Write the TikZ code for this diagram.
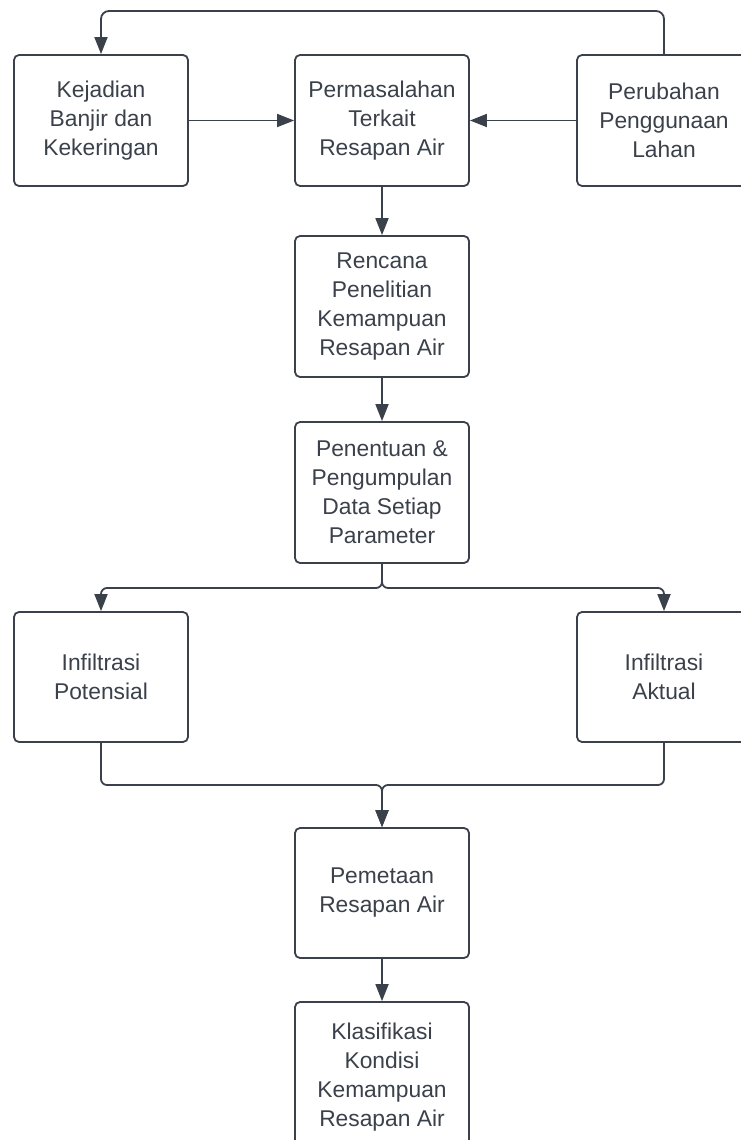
\documentclass[tikz,border=0pt]{standalone}
\usepackage{fontspec}
\setmainfont{Liberation Sans}
\usetikzlibrary{arrows.meta}
\definecolor{linegray}{HTML}{3A414A}
\tikzset{
	box/.style={draw=linegray, line width=1.8pt, rounded corners=5pt, minimum width=174pt, align=center, text=linegray, font=\fontsize{22.8}{29}\selectfont, inner sep=0pt},
	link/.style={draw=linegray, line width=1.8pt, -{Triangle[length=17pt,width=13pt]}}
}
\begin{document}
\begin{tikzpicture}[x=1pt,y=-1pt]
		\useasboundingbox (0,0) rectangle (741,1140);
		\node[box, minimum height=131pt] (KBK) at (101,120.5) {Kejadian\\Banjir dan\\Kekeringan};
		\node[box, minimum height=131pt] (PTR) at (382,120.5) {Permasalahan\\Terkait\\Resapan Air};
		\node[box, minimum height=131pt] (PPL) at (664,120.5) {Perubahan\\Penggunaan\\Lahan};
		\node[box, minimum height=141pt] (RPK) at (382,306.5) {Rencana\\Penelitian\\Kemampuan\\Resapan Air};
		\node[box, minimum height=141pt] (PPD) at (382,492.5) {Penentuan \&\\Pengumpulan\\Data Setiap\\Parameter};
		\node[box, minimum height=130pt] (IP) at (101,677) {Infiltrasi\\Potensial};
		\node[box, minimum height=130pt] (IA) at (664,677) {Infiltrasi\\Aktual};
		\node[box, minimum height=130pt] (PRA) at (382,893) {Pemetaan\\Resapan Air};
		\node[box, minimum height=150pt] (KKK) at (382,1077) {Klasifikasi\\Kondisi\\Kemampuan\\Resapan Air};
		\coordinate (top) at (382,11);
		\coordinate (split) at (382,588);
		\coordinate (merge) at (382,785);
		
		\draw[link] (KBK) -- (PTR);
		\draw[link] (PPL) -- (PTR);
		\draw[link, rounded corners=8pt] (PPL.north) |- (top) -| (KBK.north);
		\draw[link] (PTR) -- (RPK);
		\draw[link] (RPK) -- (PPD);
		\draw[link, rounded corners=6pt] (PPD.south) -- (split) -| (IP.north);
		\draw[link, rounded corners=6pt] (PPD.south) -- (split) -| (IA.north);
		\draw[link, rounded corners=6pt] (IP.south) |- (merge) -- (PRA.north);
		\draw[link, rounded corners=6pt] (IA.south) |- (merge) -- (PRA.north);
		\draw[link] (PRA) -- (KKK);
		\end{tikzpicture}
\end{document}
